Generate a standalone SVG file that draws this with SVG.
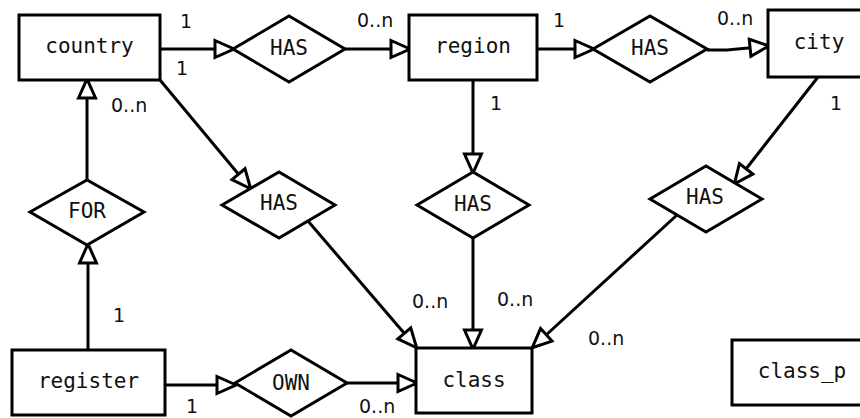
<svg xmlns="http://www.w3.org/2000/svg" width="860" height="418" viewBox="0 0 860 418">
  <style>
    .entity rect { fill: #fff; stroke: #000; stroke-width: 3; }
    .rel polygon { fill: #fff; stroke: #000; stroke-width: 3; stroke-linejoin: miter; }
    .name { font-family: "DejaVu Sans Mono", "Liberation Mono", monospace; font-size: 21px; fill: #111; text-anchor: middle; }
    .card { font-family: "DejaVu Sans", "Liberation Sans", sans-serif; font-size: 19px; fill: #111; }
    .link { fill: none; stroke: #000; stroke-width: 3; marker-end: url(#open); }
  </style>
  <defs>
    <!-- open (hollow) triangular arrowhead -->
    <marker id="open" markerUnits="userSpaceOnUse" markerWidth="24" markerHeight="20" refX="18" refY="8.5" orient="auto" overflow="visible">
      <path d="M0,0 L19,8.5 L0,17 Z" fill="#fff" stroke="#000" stroke-width="3"/>
    </marker>
  </defs>
  <rect x="0" y="0" width="860" height="418" fill="#fff"/>

  <!-- connectors -->
  <g id="connectors">
    <path class="link" d="M160,49 L233,49"/>
    <path class="link" d="M345,49 L409,49"/>
    <path class="link" d="M537,49 L593,49"/>
    <path class="link" d="M707,50 L727,50 L768,46"/>
    <path class="link" d="M160,80 L250,188"/>
    <path class="link" d="M308,221 L416,347"/>
    <path class="link" d="M87,180 L87,80"/>
    <path class="link" d="M88,350 L88,245"/>
    <path class="link" d="M165,385 L235,385"/>
    <path class="link" d="M347,383 L416,383"/>
    <path class="link" d="M473,80 L473,172"/>
    <path class="link" d="M473,238 L473,348"/>
    <path class="link" d="M818,77 L735,183"/>
    <path class="link" d="M677,215 L533,347"/>
  </g>

  <!-- entities -->
  <g id="country" class="entity">
    <rect x="19" y="15" width="141" height="65"/>
    <text class="name" x="89.5" y="53">country</text>
  </g>
  <g id="region" class="entity">
    <rect x="409" y="15" width="128" height="65"/>
    <text class="name" x="473" y="53">region</text>
  </g>
  <g id="city" class="entity">
    <rect x="768" y="10" width="102" height="67"/>
    <text class="name" x="819" y="49">city</text>
  </g>
  <g id="register" class="entity">
    <rect x="12" y="350" width="153" height="65"/>
    <text class="name" x="88.5" y="388">register</text>
  </g>
  <g id="class" class="entity">
    <rect x="416" y="348" width="116" height="65"/>
    <text class="name" x="474" y="387">class</text>
  </g>
  <g id="class_p" class="entity">
    <rect x="732" y="340" width="140" height="65"/>
    <text class="name" x="802" y="378">class_p</text>
  </g>

  <!-- relationships -->
  <g id="has_country_region" class="rel">
    <polygon points="233,49 289,16 345,49 289,82"/>
    <text class="name" x="289" y="55">HAS</text>
  </g>
  <g id="has_region_city" class="rel">
    <polygon points="593,49 650,16 707,49 650,82"/>
    <text class="name" x="650" y="55">HAS</text>
  </g>
  <g id="has_country_class" class="rel">
    <polygon points="222,205 279,172 335,205 279,238"/>
    <text class="name" x="279" y="210">HAS</text>
  </g>
  <g id="has_region_class" class="rel">
    <polygon points="417,205 473,172 529,205 473,238"/>
    <text class="name" x="473" y="211">HAS</text>
  </g>
  <g id="has_city_class" class="rel">
    <polygon points="650,199 706,166 762,199 706,232"/>
    <text class="name" x="705" y="204">HAS</text>
  </g>
  <g id="for" class="rel">
    <polygon points="30,212 87,180 144,212 87,245"/>
    <text class="name" x="87" y="218">FOR</text>
  </g>
  <g id="own" class="rel">
    <polygon points="235,383 291,350 347,383 291,416"/>
    <text class="name" x="291" y="390">OWN</text>
  </g>

  <!-- cardinalities -->
  <g id="cardinalities">
    <text class="card" x="180" y="28">1</text>
    <text class="card" x="176" y="75">1</text>
    <text class="card" x="357" y="27">0..n</text>
    <text class="card" x="111" y="112">0..n</text>
    <text class="card" x="553" y="27">1</text>
    <text class="card" x="717" y="25">0..n</text>
    <text class="card" x="490" y="110">1</text>
    <text class="card" x="830" y="110">1</text>
    <text class="card" x="113" y="322">1</text>
    <text class="card" x="186" y="413">1</text>
    <text class="card" x="359" y="413">0..n</text>
    <text class="card" x="412" y="308">0..n</text>
    <text class="card" x="497" y="306">0..n</text>
    <text class="card" x="588" y="345">0..n</text>
  </g>
</svg>
